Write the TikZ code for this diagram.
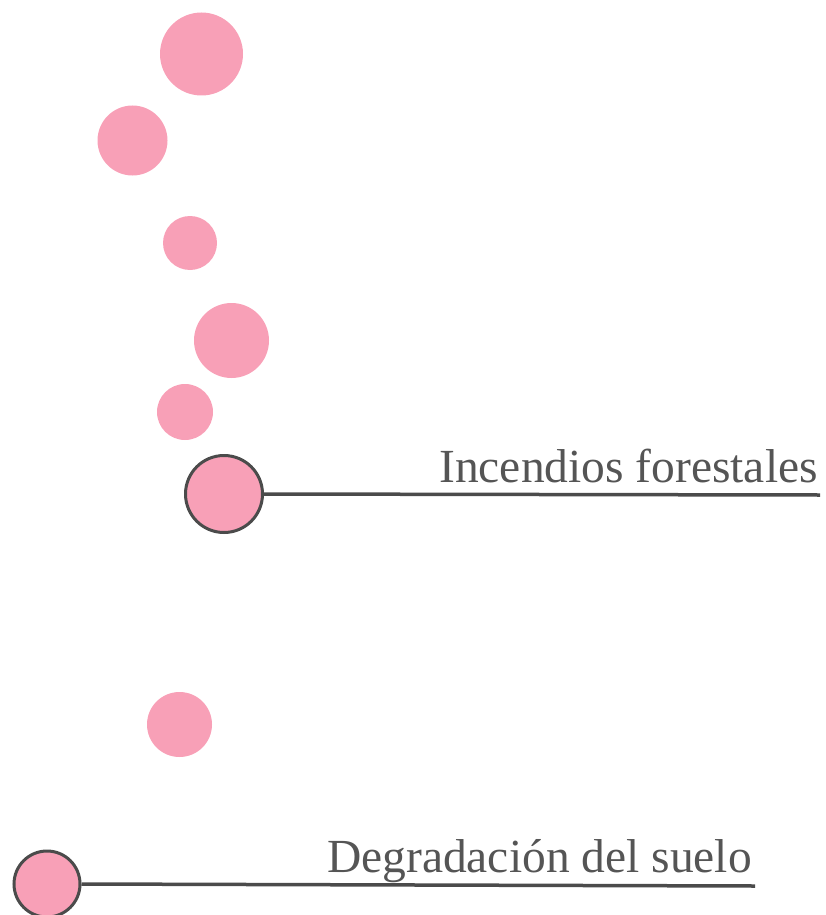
\documentclass[tikz,border=0pt]{standalone}
\usepackage{fontspec}
\setmainfont{Liberation Serif}
\usepackage{tikz}
\definecolor{bubblepink}{HTML}{F8A0B7}
\definecolor{linegray}{HTML}{4B4B4B}
\definecolor{textgray}{HTML}{555555}

\begin{document}
\begin{tikzpicture}[x = 1pt, y = -1pt]
\tikzstyle{BubbleStyle}=[
shape = circle,
fill = bubblepink,
inner sep = 0pt]
\tikzstyle{MarkStyle}=[
BubbleStyle,
draw = linegray,
line width = 3pt]
\tikzstyle{LabelStyle}=[
anchor = base east,
inner sep = 0pt,
text = textgray,
font = \fontsize{47.5}{54}\selectfont]
\useasboundingbox (0,0) rectangle (825,915);
% free bubbles
\node[BubbleStyle, minimum size = 83pt] (b1) at (201.5,54) {};
\node[BubbleStyle, minimum size = 70pt] (b2) at (132.5,140.5) {};
\node[BubbleStyle, minimum size = 54pt] (b3) at (190,243) {};
\node[BubbleStyle, minimum size = 75pt] (b4) at (231.5,340.5) {};
\node[BubbleStyle, minimum size = 56pt] (b5) at (185,412) {};
\node[BubbleStyle, minimum size = 65pt] (b7) at (179.5,724.5) {};
% marked bubbles
\node[MarkStyle, minimum size = 77pt] (fires) at (224,494) {};
\node[MarkStyle, minimum size = 66pt] (soil) at (47,884) {};
\coordinate (firesEnd) at (820,495);
\coordinate (soilEnd) at (755,886);
\draw[linegray, line width = 3.5pt] (fires.east) -- (firesEnd);
\draw[linegray, line width = 3.5pt] (soil.east) -- (soilEnd);
\node[LabelStyle] (firesText) at (818,482) {Incendios forestales};
\node[LabelStyle] (soilText) at (752,872) {Degradación del suelo};
\end{tikzpicture}
\end{document}
